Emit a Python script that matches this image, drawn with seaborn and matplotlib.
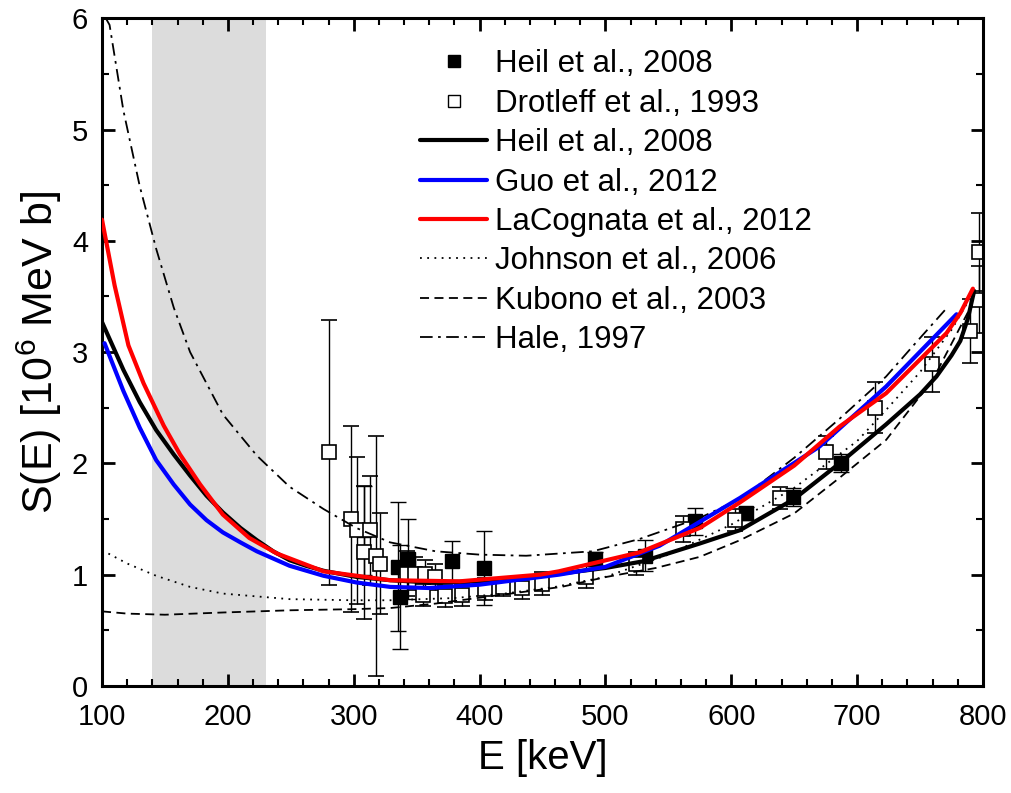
import matplotlib
matplotlib.use('Agg')
import matplotlib.pyplot as plt
from matplotlib.lines import Line2D
from matplotlib.ticker import MultipleLocator
import seaborn as sns

# Heil et al., 2008 (filled squares): E [keV], S, error
heil_pts_E = [308, 335.4, 336.7, 343.3, 377.8, 403.7, 491.6, 531.3, 571, 612, 649, 687.5]
heil_pts_S = [1.40, 1.07, 0.80, 1.14, 1.12, 1.06, 1.14, 1.17, 1.48, 1.55, 1.70, 2.00]
heil_pts_err = [0.40, 0.58, 0.47, 0.36, 0.18, 0.33, 0.06, 0.14, 0.12, 0.06, 0.08, 0.08]

# Drotleff et al., 1993 (open squares)
drot_E = [280.3, 297.8, 302.3, 308.1, 312.9, 317.6, 320.8, 342, 348.6, 356.5, 364.5,
          355.2, 372.4, 385.7, 404.2, 418.5, 433.4, 449.3, 484.4, 524.7, 561.5,
          602.8, 638.5, 675.6, 714, 759.8, 789.4, 796.8, 796.8]
drot_S = [2.10, 1.50, 1.40, 1.20, 1.40, 1.17, 1.10, 1.01, 1.01, 1.01, 0.98,
          0.82, 0.81, 0.82, 0.87, 0.89, 0.88, 0.92, 0.98, 1.10, 1.41,
          1.49, 1.69, 2.10, 2.50, 2.89, 3.19, 3.47, 3.90]
drot_err = [1.19, 0.84, 0.66, 0.60, 0.49, 1.08, 0.45, 0.20, 0.15, 0.12, 0.12,
            0.10, 0.10, 0.10, 0.10, 0.08, 0.10, 0.10, 0.10, 0.10, 0.12,
            0.10, 0.10, 0.15, 0.23, 0.25, 0.29, 0.30, 0.35]

# model curves
heil_E = [100, 117, 130, 143, 157, 170, 183, 196, 210, 223, 236, 249, 262, 276, 302, 329,
          360, 400, 450, 500, 530, 575, 607, 650, 686, 723, 750, 763, 775, 782, 788, 793]
heil_S = [3.27, 2.84, 2.55, 2.30, 2.08, 1.89, 1.71, 1.56, 1.42, 1.31, 1.21, 1.13, 1.08, 1.035, 0.98, 0.95,
          0.93, 0.94, 0.99, 1.06, 1.12, 1.28, 1.40, 1.68, 2.00, 2.35, 2.62, 2.78, 2.97, 3.10, 3.30, 3.55]

guo_E = [102, 117, 130, 143, 157, 170, 183, 196, 210, 223, 249, 276, 302, 329, 360, 400,
         463, 500, 543, 607, 670, 723, 779]
guo_S = [3.08, 2.65, 2.32, 2.03, 1.81, 1.63, 1.49, 1.38, 1.29, 1.21, 1.08, 0.99, 0.93, 0.89, 0.88, 0.91,
         1.00, 1.07, 1.26, 1.69, 2.15, 2.69, 3.34]

lacog_E = [100, 110, 121, 133, 149, 162, 178, 196, 217, 239, 276, 329, 384, 448, 463, 527,
           575, 607, 650, 686, 723, 771, 782, 792]
lacog_S = [4.19, 3.60, 3.06, 2.72, 2.34, 2.08, 1.81, 1.54, 1.33, 1.19, 1.03, 0.95, 0.94, 1.00, 1.03, 1.20,
           1.42, 1.65, 1.98, 2.33, 2.63, 3.17, 3.35, 3.57]

john_E = [100, 105, 120, 143, 170, 196, 249, 300, 329, 380, 420, 460, 500, 550, 600, 650, 700, 723, 750, 775, 788]
john_S = [1.22, 1.19, 1.10, 0.99, 0.89, 0.83, 0.78, 0.77, 0.77, 0.79, 0.83, 0.89, 0.98, 1.18, 1.45, 1.78, 2.20, 2.48, 2.82, 3.20, 3.45]

kubo_E = [100, 120, 150, 196, 250, 300, 329, 365, 418, 465, 501, 540, 575, 607, 650, 686, 723, 760, 790]
kubo_S = [0.67, 0.65, 0.64, 0.66, 0.68, 0.69, 0.70, 0.74, 0.82, 0.89, 0.98, 1.06, 1.16, 1.31, 1.55, 1.87, 2.21, 2.75, 3.40]

hale_E = [103, 106, 117, 130, 143, 157, 170, 196, 223, 249, 276, 302, 329, 365, 400, 437,
          490, 527, 575, 607, 650, 686, 723, 744, 770]
hale_S = [6.0, 5.94, 5.17, 4.49, 3.93, 3.40, 3.00, 2.44, 2.07, 1.79, 1.59, 1.42, 1.29, 1.21, 1.18, 1.17,
          1.21, 1.32, 1.51, 1.68, 2.05, 2.40, 2.78, 3.05, 3.38]

band = (140, 230)

sns.set_theme(style="ticks")
plt.rcParams['font.family'] = ['Liberation Sans', 'DejaVu Sans']
plt.rcParams['mathtext.fontset'] = 'custom'
plt.rcParams['mathtext.rm'] = 'Liberation Sans'
plt.rcParams['text.color'] = 'black'
plt.rcParams['axes.labelcolor'] = 'black'
plt.rcParams['xtick.color'] = 'black'
plt.rcParams['ytick.color'] = 'black'

fig = plt.figure(figsize=(10.12, 7.93), dpi=100)
ax = fig.add_axes([0.1008, 0.135, 0.8705, 0.842])

ax.axvspan(band[0], band[1], color='#dcdcdc', lw=0, zorder=0)

# data with error bars
ax.errorbar(heil_pts_E, heil_pts_S, yerr=heil_pts_err, fmt='s', ms=10, mfc='black', mec='black',
            ecolor='black', elinewidth=1, capsize=6, capthick=1, zorder=2)
ax.errorbar(drot_E, drot_S, yerr=drot_err, fmt='s', ms=10, mfc='white', mec='black', mew=1.2,
            ecolor='black', elinewidth=1, capsize=6, capthick=1, zorder=2)

# curves
sns.lineplot(x=john_E, y=john_S, ax=ax, color='black', lw=1.3, linestyle=(0, (1, 3)), estimator=None, sort=False, zorder=3)
sns.lineplot(x=kubo_E, y=kubo_S, ax=ax, color='black', lw=1.3, linestyle=(0, (5, 3)), estimator=None, sort=False, zorder=3)
sns.lineplot(x=hale_E, y=hale_S, ax=ax, color='black', lw=1.3, linestyle=(0, (7, 3, 1.5, 3)), estimator=None, sort=False, zorder=3)
sns.lineplot(x=heil_E, y=heil_S, ax=ax, color='black', lw=3, estimator=None, sort=False, zorder=4)
sns.lineplot(x=guo_E, y=guo_S, ax=ax, color='blue', lw=3, estimator=None, sort=False, zorder=4)
sns.lineplot(x=lacog_E, y=lacog_S, ax=ax, color='red', lw=3, estimator=None, sort=False, zorder=4)

ax.set_xlim(100, 800)
ax.set_ylim(0, 6)
ax.xaxis.set_major_locator(MultipleLocator(100))
ax.xaxis.set_minor_locator(MultipleLocator(20))
ax.yaxis.set_major_locator(MultipleLocator(1))
ax.yaxis.set_minor_locator(MultipleLocator(0.5))
ax.tick_params(which='both', direction='in', top=True, right=True, labelsize=21, color='black')
ax.tick_params(which='major', length=9, width=2)
ax.tick_params(which='minor', length=5, width=1.5)
ax.tick_params(axis='x', which='major', pad=12)
ax.tick_params(axis='y', which='major', pad=10)
for s in ax.spines.values():
    s.set_linewidth(2.2)
    s.set_color('black')

ax.set_xlabel('E [keV]', fontsize=29, labelpad=6)
ax.set_ylabel('S(E) [10$^6$ MeV b]', fontsize=31, labelpad=6)

handles = [
    Line2D([], [], marker='s', ls='none', ms=9, mfc='black', mec='black'),
    Line2D([], [], marker='s', ls='none', ms=9, mfc='white', mec='black'),
    Line2D([], [], color='black', lw=3),
    Line2D([], [], color='blue', lw=3),
    Line2D([], [], color='red', lw=3),
    Line2D([], [], color='black', lw=1.3, linestyle=(0, (1, 3))),
    Line2D([], [], color='black', lw=1.3, linestyle=(0, (5, 3))),
    Line2D([], [], color='black', lw=1.3, linestyle=(0, (7, 3, 1.5, 3))),
]
labels = ['Heil et al., 2008', 'Drotleff et al., 1993', 'Heil et al., 2008', 'Guo et al., 2012',
          'LaCognata et al., 2012', 'Johnson et al., 2006', 'Kubono et al., 2003', 'Hale, 1997']
ax.legend(handles, labels, loc='upper left', bbox_to_anchor=(0.347, 0.972), frameon=False,
          fontsize=22.5, handlelength=2.15, handletextpad=0.25, labelspacing=0.30, borderaxespad=0)

fig.savefig('out.png', dpi=100)
